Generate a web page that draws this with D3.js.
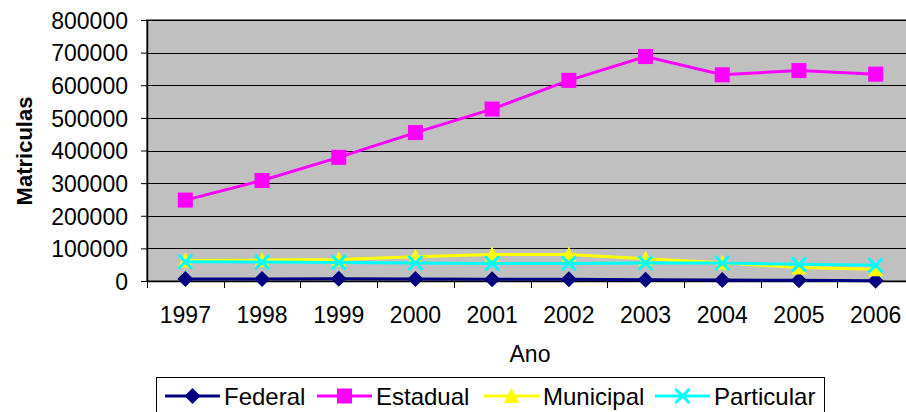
<!DOCTYPE html>
<html>
<head>
<meta charset="utf-8">
<script src="https://cdn.jsdelivr.net/npm/d3@7"></script>
<style>
  body { margin: 0; background: #fff; }
  svg { display: block; }
  text { font-family: Arial, "Liberation Sans", sans-serif; fill: #000; }
</style>
</head>
<body>
<svg id="chart" width="906" height="412"></svg>
<script>
const years = ["1997","1998","1999","2000","2001","2002","2003","2004","2005","2006"];
const federal    = [6000, 6000, 7000, 6000, 5000, 5000, 4000, 3000, 2000, 1000];
const estadual   = [248000, 308000, 379000, 455000, 527000, 615000, 688000, 632000, 645000, 634000];
const municipal  = [63000, 64000, 66000, 74000, 81000, 81000, 68000, 56000, 41000, 36000];
const particular = [59000, 58000, 57000, 55000, 54000, 54000, 55000, 55000, 51000, 48000];
const yTicks = [0, 100000, 200000, 300000, 400000, 500000, 600000, 700000, 800000];
const seriesNames = ["Federal", "Estadual", "Municipal", "Particular"];

const series = [
  { name: seriesNames[0], values: federal,    color: "#000080", marker: "diamond" },
  { name: seriesNames[1], values: estadual,   color: "#ff00ff", marker: "square" },
  { name: seriesNames[2], values: municipal,  color: "#ffff00", marker: "triangle" },
  { name: seriesNames[3], values: particular, color: "#00ffff", marker: "x" }
];

const svg = d3.select("#chart");
const L = 147, R = 914, T = 20, B = 281;

const x = d3.scaleBand().domain(years).range([L, R]).padding(0);
const y = d3.scaleLinear().domain([0, 800000]).range([B, T]);
const cx = d => x(d) + x.bandwidth() / 2;

// plot area
svg.append("rect").attr("x", L).attr("y", T).attr("width", R - L).attr("height", B - T)
  .attr("fill", "#c0c0c0").attr("stroke", "#808080").attr("stroke-width", 2);

// gridlines
svg.append("g").selectAll("line").data(yTicks.filter(v => v > 0)).join("line")
  .attr("x1", L).attr("x2", R)
  .attr("y1", d => Math.round(y(d)) + 0.5).attr("y2", d => Math.round(y(d)) + 0.5)
  .attr("stroke", "#000").attr("stroke-width", 1);

// y axis
const yAxis = svg.append("g").attr("transform", `translate(${L},0)`)
  .call(d3.axisLeft(y).tickValues(yTicks).tickFormat(d3.format("d")).tickSize(6).tickPadding(13).tickSizeOuter(0));
yAxis.select(".domain").attr("stroke", "#000").attr("stroke-width", 1.5);
yAxis.selectAll(".tick line").attr("stroke", "#000");
yAxis.selectAll("text").style("font-size", "23px").attr("dy", "0.36em");

// x axis
const xAxis = svg.append("g").attr("transform", `translate(0,${B})`)
  .call(d3.axisBottom(x).tickSize(0).tickPadding(26).tickSizeOuter(0));
xAxis.select(".domain").attr("stroke", "#000").attr("stroke-width", 1.5);
xAxis.selectAll("text").style("font-size", "23px");
// category separator ticks
const edges = years.map(d => x(d)).concat([x(years[years.length - 1]) + x.bandwidth()]);
svg.append("g").selectAll("line").data(edges).join("line")
  .attr("x1", d => Math.round(d) + 0.5).attr("x2", d => Math.round(d) + 0.5)
  .attr("y1", B).attr("y2", B + 7).attr("stroke", "#000");

// titles
svg.append("text").attr("transform", "translate(32,151) rotate(-90)")
  .attr("text-anchor", "middle").style("font-size", "22px").style("font-weight", "bold").text("Matriculas");
svg.append("text").attr("x", 530).attr("y", 362).attr("text-anchor", "middle")
  .style("font-size", "23px").text("Ano");

function drawMarker(g, type, color, px, py) {
  if (type === "diamond") {
    g.append("path").attr("d", `M${px},${py-8}L${px+8},${py}L${px},${py+8}L${px-8},${py}Z`).attr("fill", color);
  } else if (type === "square") {
    g.append("rect").attr("x", px - 7.5).attr("y", py - 7.5).attr("width", 15).attr("height", 15).attr("fill", color);
  } else if (type === "triangle") {
    g.append("path").attr("d", `M${px},${py-8}L${px+7.5},${py+7}L${px-7.5},${py+7}Z`).attr("fill", color);
  } else {
    g.append("path").attr("d", `M${px-7},${py-7}L${px+7},${py+7}M${px+7},${py-7}L${px-7},${py+7}`)
      .attr("stroke", color).attr("stroke-width", 3).attr("fill", "none");
  }
}

const line = d3.line().x((d, i) => cx(years[i])).y(d => y(d));
series.forEach(s => {
  const g = svg.append("g");
  g.append("path").attr("d", line(s.values)).attr("fill", "none")
    .attr("stroke", s.color).attr("stroke-width", 3);
  s.values.forEach((v, i) => drawMarker(g, s.marker, s.color, cx(years[i]), y(v)));
});

// legend
const lg = svg.append("g");
lg.append("rect").attr("x", 156.5).attr("y", 377.5).attr("width", 668).attr("height", 50)
  .attr("fill", "#fff").attr("stroke", "#000").attr("stroke-width", 1);
const legendX = [165, 317, 484, 655];
series.forEach((s, i) => {
  const lx = legendX[i];
  lg.append("line").attr("x1", lx).attr("x2", lx + 55).attr("y1", 396).attr("y2", 396)
    .attr("stroke", s.color).attr("stroke-width", 3);
  drawMarker(lg, s.marker, s.color, lx + 27.5, 396);
  lg.append("text").attr("x", lx + 59).attr("y", 405).style("font-size", "24px").text(s.name);
});
</script>
</body>
</html>
